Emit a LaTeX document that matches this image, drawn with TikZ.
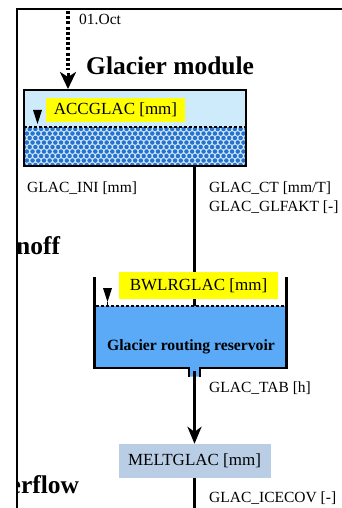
\documentclass[tikz,border=0pt]{standalone}
\usepackage{fontspec}
\setmainfont{Liberation Serif}
\usetikzlibrary{arrows.meta}
\definecolor{icetop}{HTML}{CDEBFB}
\definecolor{icedot}{HTML}{2672CC}
\definecolor{icebg}{HTML}{CFE7FA}
\definecolor{water}{HTML}{5AAAF7}
\definecolor{meltbox}{HTML}{B9CDE5}
\definecolor{tag}{HTML}{FFFF00}
\begin{document}
\begin{tikzpicture}[x=1pt,y=-1pt,
  lbl/.style={anchor=base west, inner sep=0pt, font=\fontsize{15.5}{18}\selectfont},
  heading/.style={anchor=base west, inner sep=0pt, font=\fontsize{25.5}{30}\selectfont\bfseries},
  tagbox/.style={fill=tag, inner sep=0pt, font=\fontsize{17}{20}\selectfont},
  flow/.style={line width=3pt},
  waterline/.style={line width=1.2pt, dash pattern=on 3pt off 2pt},
  marker/.style={fill=black},
  wall/.style={line width=2.5pt},
]
\useasboundingbox (0,0) rectangle (342,508);

% ---- glacier store: light top layer and bubbly ice below
\fill[icetop] (24,90) rectangle (246,127);
\begin{scope}
  \clip (24,127) rectangle (246,166);
  \fill[icebg] (24,127) rectangle (246,166);
  \foreach \r in {0,...,9} {
    \foreach \c in {0,...,40} {
      \fill[icedot] ({24+5.7*\c+2.85*mod(\r,2)}, {129+4.5*\r}) circle (2.25pt);
    }
  }
\end{scope}
\draw[waterline] (24,127) -- (246,127);
\node[draw, line width=2pt, minimum width=222, minimum height=76, inner sep=0pt] (glacier) at (135,128) {};
\fill[marker] (33,110) -- (42,110) -- (37.5,124) -- cycle;
\node[tagbox, minimum width=139, minimum height=24] (acc) at (115.5,110) {ACCGLAC [mm]};

% ---- inflow on 1 October: dotted shaft, solid head
\coordinate (oct) at (68,11);
\coordinate (octin) at (oct |- glacier.north);
\draw[line width=3.2pt, dash pattern=on 3pt off 2.2pt, shorten >=19pt] (oct) -- (octin);
\draw[line width=3pt, -{Stealth[length=17pt, width=16pt, inset=5pt]}]
  ([yshift=16pt]octin) -- (octin);
\node[lbl] (octlbl) at (79,25) {01.Oct};
\node[heading] (title) at (86,75) {Glacier module};

% ---- parameters of the glacier store
\node[lbl] (ini) at (27,192) {GLAC\_INI [mm]};
\node[lbl] (ct) at (209,192) {GLAC\_CT [mm/T]};
\node[lbl] (glf) at (209,211.5) {GLAC\_GLFAKT [-]};

% ---- routing reservoir
\coordinate (wl) at (194.5,306);
\coordinate (outlet) at (194.5,371);
\fill[water] (94.5,306) -- (286.5,306) -- (286.5,368) -- (200,368) -- (200,376.5)
  -- (189,376.5) -- (189,368) -- (94.5,368) -- cycle;
\draw[flow] (wl |- glacier.south) -- (wl);
\draw[wall] (94.5,277) -- (94.5,368) -- (189,368) -- (189,377);
\draw[wall] (200,377) -- (200,368) -- (286.5,368) -- (286.5,277);
\draw[waterline] (95.5,306) -- (285.5,306);
\fill[marker] (103,288) -- (112,288) -- (107.5,302) -- cycle;
\draw[line width=0.8pt] (107.5,302) -- (107.5,306);
\node[tagbox, minimum width=159, minimum height=27] (bwlr) at (198.5,285.5) {BWLRGLAC [mm]};
\node[anchor=base, inner sep=0pt, font=\fontsize{15.7}{18}\selectfont\bfseries] (resname) at (191,350) {Glacier routing reservoir};

% ---- melt output
\node[fill=meltbox, minimum width=152, minimum height=34, inner sep=0pt,
      font=\fontsize{17}{20}\selectfont] (melt) at (194.5,461) {MELTGLAC [mm]};
\draw[flow, -{Stealth[length=17pt, width=14pt, inset=5pt]}] (outlet) -- (melt.north);
\node[lbl] (tab) at (209,392) {GLAC\_TAB [h]};
\coordinate (down) at (194.5,512);
\draw[flow] (melt.south) -- (down);
\node[lbl] (icecov) at (209,502) {GLAC\_ICECOV [-]};

% ---- headings of neighbouring panels, cut by the frame
\begin{scope}
  \clip (17.5,0) rectangle (342,508);
  \node[heading] (runoff) at (16,254) {noff};
  \node[heading] (overflow) at (9.5,493) {erflow};
\end{scope}

% ---- module frame
\coordinate (frtl) at (16.5,9);
\coordinate (frbl) at (16.5,512);
\coordinate (frtr) at (346,9);
\draw[line width=2pt] (frbl) -- (frtl) -- (frtr);
\end{tikzpicture}
\end{document}
